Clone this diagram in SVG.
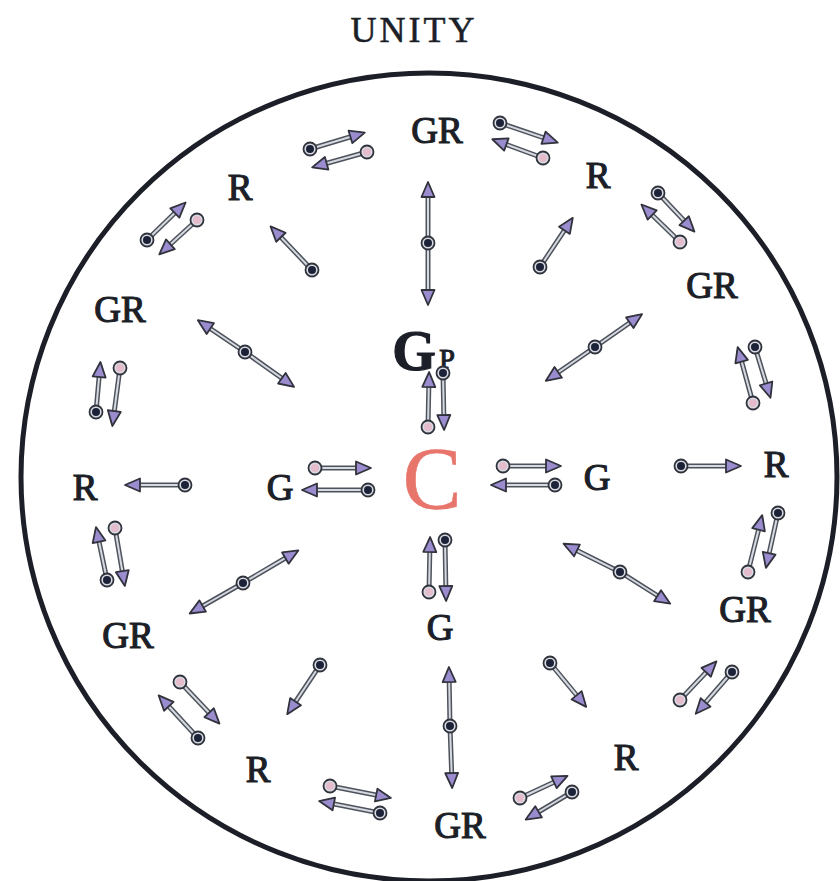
<svg xmlns="http://www.w3.org/2000/svg" width="840" height="881" viewBox="0 0 840 881">
<style>
.lbl{font-family:"Liberation Serif","Times New Roman",serif;font-size:37px;fill:#1c1f28;stroke:#1c1f28;stroke-width:1.2;text-anchor:middle}
.shaft{fill:none;stroke:#4d525c;stroke-width:5;stroke-linecap:round}
.core{fill:none;stroke:#d6d9e0;stroke-width:2}
.sd{marker-start:url(#cd);marker-end:url(#hd)}
.sp{marker-start:url(#cp);marker-end:url(#hd)}
.dbl{marker-start:url(#hs);marker-mid:url(#cd);marker-end:url(#hd)}
</style>
<defs>
<marker id="hd" markerUnits="userSpaceOnUse" viewBox="-12 -9 20 18" markerWidth="20" markerHeight="18" refX="0" refY="0" orient="auto"><path d="M-10 -6.5 L5 0 L-10 6.5 Z" fill="#9a8ccf" stroke="#30333c" stroke-width="1.8" stroke-linejoin="round"/></marker>
<marker id="hs" markerUnits="userSpaceOnUse" viewBox="-12 -9 20 18" markerWidth="20" markerHeight="18" refX="0" refY="0" orient="auto-start-reverse"><path d="M-10 -6.5 L5 0 L-10 6.5 Z" fill="#9a8ccf" stroke="#30333c" stroke-width="1.8" stroke-linejoin="round"/></marker>
<marker id="cd" markerUnits="userSpaceOnUse" viewBox="-9 -9 18 18" markerWidth="18" markerHeight="18" refX="0" refY="0"><circle r="6.5" fill="#d8dbe2" stroke="#30333c" stroke-width="1.8"/><circle r="4" fill="#1c2238"/></marker>
<marker id="cp" markerUnits="userSpaceOnUse" viewBox="-9 -9 18 18" markerWidth="18" markerHeight="18" refX="0" refY="0"><circle r="6.5" fill="#d8dbe2" stroke="#30333c" stroke-width="1.8"/><circle r="4" fill="#e4bccb"/></marker>
</defs>
<rect width="840" height="881" fill="#ffffff"/>
<ellipse cx="429" cy="477" rx="408" ry="404" fill="none" stroke="#1c1f28" stroke-width="5"/>

<g id="title"><text x="414" y="42" class="lbl" style="font-size:36px;stroke-width:0.5;letter-spacing:3px">UNITY</text></g>

<g id="n-gr-top"><text x="437" y="143" class="lbl">GR</text></g>
<g id="n-r-tl"><text x="240" y="200" class="lbl">R</text></g>
<g id="n-r-tr"><text x="598" y="188" class="lbl">R</text></g>
<g id="n-gr-l"><text x="120" y="322" class="lbl">GR</text></g>
<g id="n-gr-r"><text x="712" y="298" class="lbl">GR</text></g>
<g id="n-gp"><text x="414" y="370" class="lbl" style="font-size:56px;font-weight:bold">G</text><text x="447" y="368" class="lbl" style="font-size:28px">P</text></g>
<g id="n-r-l"><text x="85" y="500" class="lbl">R</text></g>
<g id="n-r-r"><text x="776" y="477" class="lbl">R</text></g>
<g id="n-g-l"><text x="280" y="500" class="lbl">G</text></g>
<g id="n-g-r"><text x="597" y="490" class="lbl">G</text></g>
<g id="n-c"><text x="432" y="508" class="lbl" style="font-size:88px;fill:#e8756b;stroke:#e8756b;stroke-width:0.6">C</text></g>
<g id="n-g-b"><text x="440" y="640" class="lbl">G</text></g>
<g id="n-gr-bl"><text x="128" y="648" class="lbl">GR</text></g>
<g id="n-gr-br"><text x="745" y="622" class="lbl">GR</text></g>
<g id="n-r-bl"><text x="258" y="782" class="lbl">R</text></g>
<g id="n-r-br"><text x="626" y="770" class="lbl">R</text></g>
<g id="n-gr-b"><text x="460" y="838" class="lbl">GR</text></g>

<g id="connectors">
<path class="shaft" d="M428 187 L428 243 L428 300"/><path class="core dbl" d="M428 187 L428 243 L428 300"/>
<path class="shaft" d="M449 672 L450 726 L452 783"/><path class="core dbl" d="M449 672 L450 726 L452 783"/>
<path class="shaft" d="M202 323 L245 352 L290 384"/><path class="core dbl" d="M202 323 L245 352 L290 384"/>
<path class="shaft" d="M550 378 L595 347 L638 317"/><path class="core dbl" d="M550 378 L595 347 L638 317"/>
<path class="shaft" d="M194 611 L243 583 L294 553"/><path class="core dbl" d="M194 611 L243 583 L294 553"/>
<path class="shaft" d="M568 546 L620 572 L666 601"/><path class="core dbl" d="M568 546 L620 572 L666 601"/>
<path class="shaft" d="M312 270 L274 230"/><path class="core sd" d="M312 270 L274 230"/>
<path class="shaft" d="M540 267 L570 222"/><path class="core sd" d="M540 267 L570 222"/>
<path class="shaft" d="M320 665 L290 710"/><path class="core sd" d="M320 665 L290 710"/>
<path class="shaft" d="M550 663 L583 703"/><path class="core sd" d="M550 663 L583 703"/>
<path class="shaft" d="M185 485 L130 485"/><path class="core sd" d="M185 485 L130 485"/>
<path class="shaft" d="M681 466 L736 466"/><path class="core sd" d="M681 466 L736 466"/>
<path class="shaft" d="M310 149 L360 134"/><path class="core sd" d="M310 149 L360 134"/>
<path class="shaft" d="M367 152 L317 166"/><path class="core sp" d="M367 152 L317 166"/>
<path class="shaft" d="M500 123 L553 141"/><path class="core sd" d="M500 123 L553 141"/>
<path class="shaft" d="M543 158 L497 141"/><path class="core sp" d="M543 158 L497 141"/>
<path class="shaft" d="M147 240 L182 206"/><path class="core sd" d="M147 240 L182 206"/>
<path class="shaft" d="M197 220 L163 251"/><path class="core sp" d="M197 220 L163 251"/>
<path class="shaft" d="M658 193 L691 228"/><path class="core sd" d="M658 193 L691 228"/>
<path class="shaft" d="M680 242 L645 208"/><path class="core sp" d="M680 242 L645 208"/>
<path class="shaft" d="M96 412 L100 367"/><path class="core sd" d="M96 412 L100 367"/>
<path class="shaft" d="M120 368 L113 421"/><path class="core sp" d="M120 368 L113 421"/>
<path class="shaft" d="M755 347 L769 393"/><path class="core sd" d="M755 347 L769 393"/>
<path class="shaft" d="M753 403 L739 352"/><path class="core sp" d="M753 403 L739 352"/>
<path class="shaft" d="M778 513 L767 563"/><path class="core sd" d="M778 513 L767 563"/>
<path class="shaft" d="M748 572 L761 520"/><path class="core sp" d="M748 572 L761 520"/>
<path class="shaft" d="M107 580 L97 532"/><path class="core sd" d="M107 580 L97 532"/>
<path class="shaft" d="M115 528 L124 581"/><path class="core sp" d="M115 528 L124 581"/>
<path class="shaft" d="M732 672 L699 710"/><path class="core sd" d="M732 672 L699 710"/>
<path class="shaft" d="M680 700 L713 665"/><path class="core sp" d="M680 700 L713 665"/>
<path class="shaft" d="M198 738 L162 699"/><path class="core sd" d="M198 738 L162 699"/>
<path class="shaft" d="M180 682 L216 720"/><path class="core sp" d="M180 682 L216 720"/>
<path class="shaft" d="M572 792 L530 817"/><path class="core sd" d="M572 792 L530 817"/>
<path class="shaft" d="M520 798 L563 778"/><path class="core sp" d="M520 798 L563 778"/>
<path class="shaft" d="M380 813 L324 802"/><path class="core sd" d="M380 813 L324 802"/>
<path class="shaft" d="M330 786 L386 797"/><path class="core sp" d="M330 786 L386 797"/>
<path class="shaft" d="M428 427 L429 377"/><path class="core sp" d="M428 427 L429 377"/>
<path class="shaft" d="M443 373 L444 425"/><path class="core sd" d="M443 373 L444 425"/>
<path class="shaft" d="M429 592 L430 542"/><path class="core sp" d="M429 592 L430 542"/>
<path class="shaft" d="M445 540 L446 596"/><path class="core sd" d="M445 540 L446 596"/>
<path class="shaft" d="M315 468 L366 468"/><path class="core sp" d="M315 468 L366 468"/>
<path class="shaft" d="M368 490 L307 490"/><path class="core sd" d="M368 490 L307 490"/>
<path class="shaft" d="M503 466 L556 466"/><path class="core sp" d="M503 466 L556 466"/>
<path class="shaft" d="M555 485 L496 485"/><path class="core sd" d="M555 485 L496 485"/>
</g>
</svg>
